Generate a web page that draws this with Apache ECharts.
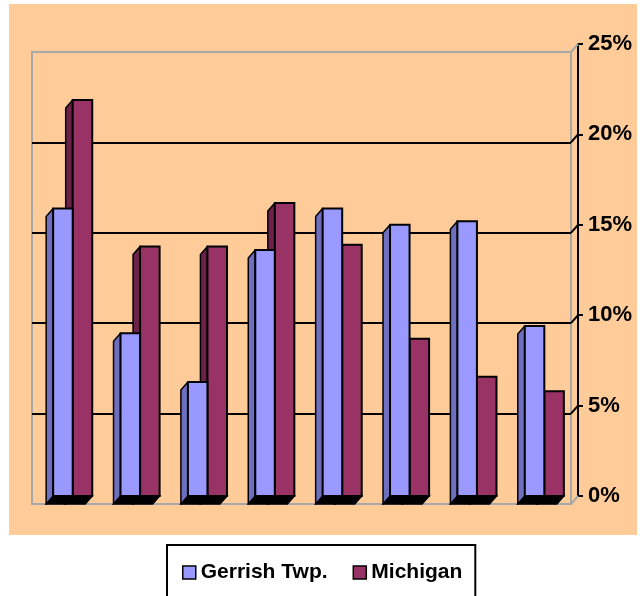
<!DOCTYPE html>
<html>
<head>
<meta charset="utf-8">
<script src="https://cdn.jsdelivr.net/npm/echarts@6/dist/echarts.min.js"></script>
<style>
html,body{margin:0;padding:0;background:#fff;}
#c{width:642px;height:596px;}
</style>
</head>
<body>
<div id="c"></div>
<script>
// ---- data ----
const categories = ['Group 1','Group 2','Group 3','Group 4','Group 5','Group 6','Group 7','Group 8'];
const gerrish = [15.9, 9.0, 6.3, 13.6, 15.9, 15.0, 15.2, 9.4];
const michigan = [21.9, 13.8, 13.8, 16.2, 13.9, 8.7, 6.6, 5.8];
const tickValues = [0, 5, 10, 15, 20, 25];
const seriesNames = ['Gerrish Twp.', 'Michigan'];

// ---- styling ----
const DX = -7, DY = 8;          // 3D depth offset (front -> back)
const BAR_FRAC = 0.29;          // bar width as fraction of category band
const FONT = 'Liberation Sans, Arial, sans-serif';

function barRenderer(side, front, sideColor) {
  return function (params, api) {
    const cat = api.value(0), v = api.value(1);
    const top = api.coord([cat, v]);
    const base = api.coord([cat, 0]);
    const band = api.size([1, 0])[0];
    const w = band * BAR_FRAC;
    const x0 = side === 'left' ? top[0] - w : top[0];
    const x1 = x0 + w;
    const yt = top[1], yb = base[1];
    return {
      type: 'group',
      children: [
        { type: 'polygon',
          shape: { points: [[x0, yb], [x1, yb], [x1 + DX, yb + DY], [x0 + DX, yb + DY]] },
          style: { fill: '#000', stroke: '#000', lineWidth: 1.5 } },
        { type: 'polygon',
          shape: { points: [[x0, yt], [x0 + DX, yt + DY], [x0 + DX, yb + DY], [x0, yb]] },
          style: { fill: sideColor, stroke: '#000', lineWidth: 1.5, lineJoin: 'round' } },
        { type: 'rect',
          shape: { x: x0, y: yt, width: w, height: yb - yt },
          style: { fill: front, stroke: '#000', lineWidth: 2 } }
      ]
    };
  };
}

const chart = echarts.init(document.getElementById('c'), null, { renderer: 'canvas' });
chart.setOption({
  animation: false,
  backgroundColor: '#ffffff',
  graphic: {
    elements: [{
      type: 'rect', z: -100, silent: true,
      shape: { x: 9, y: 4, width: 628, height: 531 },
      style: { fill: '#FFCC99' }
    }]
  },
  grid: [
    { left: 39, right: 64, top: 44, bottom: 100 },
    { left: 39 + DX, right: 64 - DX, top: 44 + DY, bottom: 100 - DY,
      show: true, borderColor: '#A8A8A8', borderWidth: 2, backgroundColor: 'transparent' }
  ],
  xAxis: [
    { type: 'category', gridIndex: 0, data: categories,
      axisLine: { show: false }, axisTick: { show: false }, axisLabel: { show: false }, splitLine: { show: false } },
    { type: 'value', gridIndex: 1, min: 0, max: 1, show: false }
  ],
  yAxis: [
    { type: 'value', gridIndex: 0, position: 'right', min: 0, max: 25, interval: 5,
      axisLine: { show: true, lineStyle: { color: '#000', width: 2 } },
      axisTick: { show: true, length: 5, inside: false, lineStyle: { color: '#000', width: 2 } },
      axisLabel: { formatter: '{value}%', color: '#000', fontSize: 22, fontWeight: 'bold', fontFamily: FONT, margin: 10 },
      splitLine: { show: false } },
    { type: 'value', gridIndex: 1, min: 0, max: 25, interval: 5,
      axisLine: { show: false }, axisTick: { show: false }, axisLabel: { show: false },
      splitLine: { show: true, showMinLine: false, showMaxLine: false, lineStyle: { color: '#000', width: 2 } } }
  ],
  legend: {
    data: seriesNames,
    left: 167, top: 545,
    padding: [17, 13, 40, 15],
    itemGap: 25, itemWidth: 13, itemHeight: 13,
    icon: 'rect',
    backgroundColor: '#ffffff', borderColor: '#000', borderWidth: 2,
    itemStyle: { borderColor: '#000', borderWidth: 1.5 },
    textStyle: { color: '#000', fontSize: 21, fontWeight: 'bold', fontFamily: FONT }
  },
  series: [
    { type: 'custom', name: seriesNames[1], xAxisIndex: 0, yAxisIndex: 0,
      itemStyle: { color: '#993366' },
      renderItem: barRenderer('right', '#993366', '#6B2148'),
      data: michigan.map((v, i) => [i, v]) },
    { type: 'custom', name: seriesNames[0], xAxisIndex: 0, yAxisIndex: 0,
      itemStyle: { color: '#9999FF' },
      renderItem: barRenderer('left', '#9999FF', '#6F6FC0'),
      data: gerrish.map((v, i) => [i, v]) },
    { type: 'custom', name: 'wall-connectors', xAxisIndex: 1, yAxisIndex: 1, silent: true,
      renderItem: function (params, api) {
        const v = api.value(0);
        const p = api.coord([1, v]);
        const edge = (v === tickValues[0] || v === tickValues[tickValues.length - 1]);
        return { type: 'line',
          shape: { x1: p[0], y1: p[1], x2: p[0] - DX, y2: p[1] - DY },
          style: { stroke: edge ? '#A8A8A8' : '#000', lineWidth: 2 } };
      },
      data: tickValues.map(v => [v]) }
  ]
});
</script>
</body>
</html>
